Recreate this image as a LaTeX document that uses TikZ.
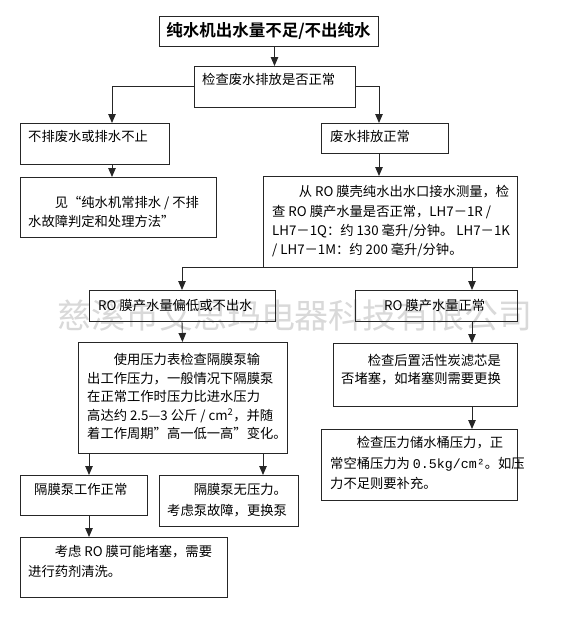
\documentclass[tikz,border=0pt]{standalone}
\usepackage{fontspec}
\setmainfont{Noto Sans CJK SC}[BoldFont={Noto Sans CJK SC Bold}]
\newfontfamily\monofont{Liberation Mono}
\usetikzlibrary{arrows.meta,positioning}

\begin{document}
\begin{tikzpicture}[x=1pt, y=-1pt,
  every node/.style={font=\fontsize{13.3}{19}\selectfont},
  box/.style={draw=black!85, line width=0.9pt, anchor=north west,
    inner sep=0pt, outer sep=0pt},
  txt/.style={anchor=north west, inner sep=0pt, align=left,
    font=\fontsize{13.3}{#1}\selectfont},
  txt/.default=19pt,
  arr/.style={draw=black!85, line width=0.9pt,
    -{Triangle[length=9pt,width=7.5pt]}},
]
\useasboundingbox (0,0) rectangle (588,619);

% watermark, behind everything
\node[font=\fontsize{34}{34}\selectfont, text=gray!30] (mark) at (295,315)
  {慈溪市艾思玛电器科技有限公司};

% boxes (top left corner, size)
\node[box, minimum width=219pt, minimum height=30pt,
  font=\fontsize{16.5}{18}\selectfont\bfseries] (title) at (159,16)
  {纯水机出水量不足/不出纯水};
\node[box, minimum width=161pt, minimum height=41pt] (check) at (194,66) {};
\node[box, minimum width=149pt, minimum height=41pt] (A) at (20,123) {};
\node[box, minimum width=127pt, minimum height=30pt] (B) at (321,123) {};
\node[box, minimum width=196pt, minimum height=60pt] (C) at (20,177) {};
\node[box, minimum width=254pt, minimum height=91pt] (D) at (263,176) {};
\node[box, minimum width=186pt, minimum height=31pt] (E) at (89,290) {};
\node[box, minimum width=162pt, minimum height=31pt] (F) at (355,290) {};
\node[box, minimum width=209pt, minimum height=111pt] (G) at (78,342) {};
\node[box, minimum width=184pt, minimum height=63pt] (H) at (333,343) {};
\node[box, minimum width=196pt, minimum height=71pt] (I) at (321,429) {};
\node[box, minimum width=127pt, minimum height=40pt] (J) at (20,475) {};
\node[box, minimum width=139pt, minimum height=51pt] (K) at (159,475) {};
\node[box, minimum width=207pt, minimum height=60pt] (L) at (20,537) {};

% texts, top left inside each box
\node[txt] (check-t) at ([shift={(8,7.5)}]check.north west) {检查废水排放是否正常};
\node[txt] (A-t) at ([shift={(8,7.5)}]A.north west) {不排废水或排水不止};
\node[txt] (B-t) at ([shift={(9,7.5)}]B.north west) {废水排放正常};
\node[txt] (C-t) at ([shift={(8,19.5)}]C.north west)
  {\hspace*{2em}见“纯水机常排水 / 不排\\水故障判定和处理方法”};
\node[txt=19.3pt] (D-t) at ([shift={(9,9.5)}]D.north west)
  {\hspace*{2em}从 RO 膜壳纯水出水口接水测量，检\\
   查 RO 膜产水量是否正常，LH7－1R /\\
   LH7－1Q：约 130 毫升/分钟。 LH7－1K\\
   / LH7－1M：约 200 毫升/分钟。};
\node[txt] (E-t) at ([shift={(9,9.5)}]E.north west) {RO 膜产水量偏低或不出水};
\node[txt] (F-t) at ([shift={(29,9.5)}]F.north west) {RO 膜产水量正常};
\node[txt=18.5pt] (G-t) at ([shift={(9,11.5)}]G.north west)
  {\hspace*{2em}使用压力表检查隔膜泵输\\
   出工作压力，一般情况下隔膜泵\\
   在正常工作时压力比进水压力\\
   高达约 2.5—3 公斤 / cm\textsuperscript{2}，并随\\
   着工作周期”高一低一高”变化。};
\node[txt=18pt] (H-t) at ([shift={(8,11.5)}]H.north west)
  {\hspace*{2em}检查后置活性炭滤芯是\\否堵塞，如堵塞则需要更换};
\node[txt=20.5pt] (I-t) at ([shift={(9,7.5)}]I.north west)
  {\hspace*{2em}检查压力储水桶压力，正\\
   常空桶压力为 {\monofont 0.5kg/cm²}。如压\\
   力不足则要补充。};
\node[txt] (J-t) at ([shift={(14,8.5)}]J.north west) {隔膜泵工作正常};
\node[txt=21pt] (K-t) at ([shift={(8,8.5)}]K.north west)
  {\hspace*{2em}隔膜泵无压力。\\考虑泵故障，更换泵};
\node[txt=20pt] (L-t) at ([shift={(8,8.5)}]L.north west)
  {\hspace*{2em}考虑 RO 膜可能堵塞，需要\\进行药剂清洗。};

% connectors
\draw[arr] (check.north |- title.south) -- (check.north);
\draw[arr] (check.west) -| ([xshift=17.5]A.north);
\draw[arr] (check.east) -| ([xshift=-5.5]B.north);
\draw[arr] ([xshift=17.5]A.south) -- ([xshift=17.5]A.south |- C.north);
\draw[arr] ([xshift=-5.5]B.south) -- ([xshift=-5.5]B.south |- D.north);
\draw[arr] (D.south west) -| (E.north);
\draw[arr] ([xshift=36]F.north |- D.south) -- ([xshift=36]F.north);
\draw[arr] (E.south) -- (G.north);
\draw[arr] ([xshift=36]F.south) -- ([xshift=36]F.south |- H.north);
\draw[arr] ([xshift=36]F.south |- H.south) -- ([xshift=36]F.south |- I.north);
\draw[arr] ([xshift=5.5]J.north |- G.south) -- ([xshift=5.5]J.north);
\draw[arr] ([xshift=34.5]K.north |- G.south) -- ([xshift=34.5]K.north);
\draw[arr] ([xshift=5.5]J.south) -- ([xshift=5.5]J.south |- L.north);
\end{tikzpicture}
\end{document}
